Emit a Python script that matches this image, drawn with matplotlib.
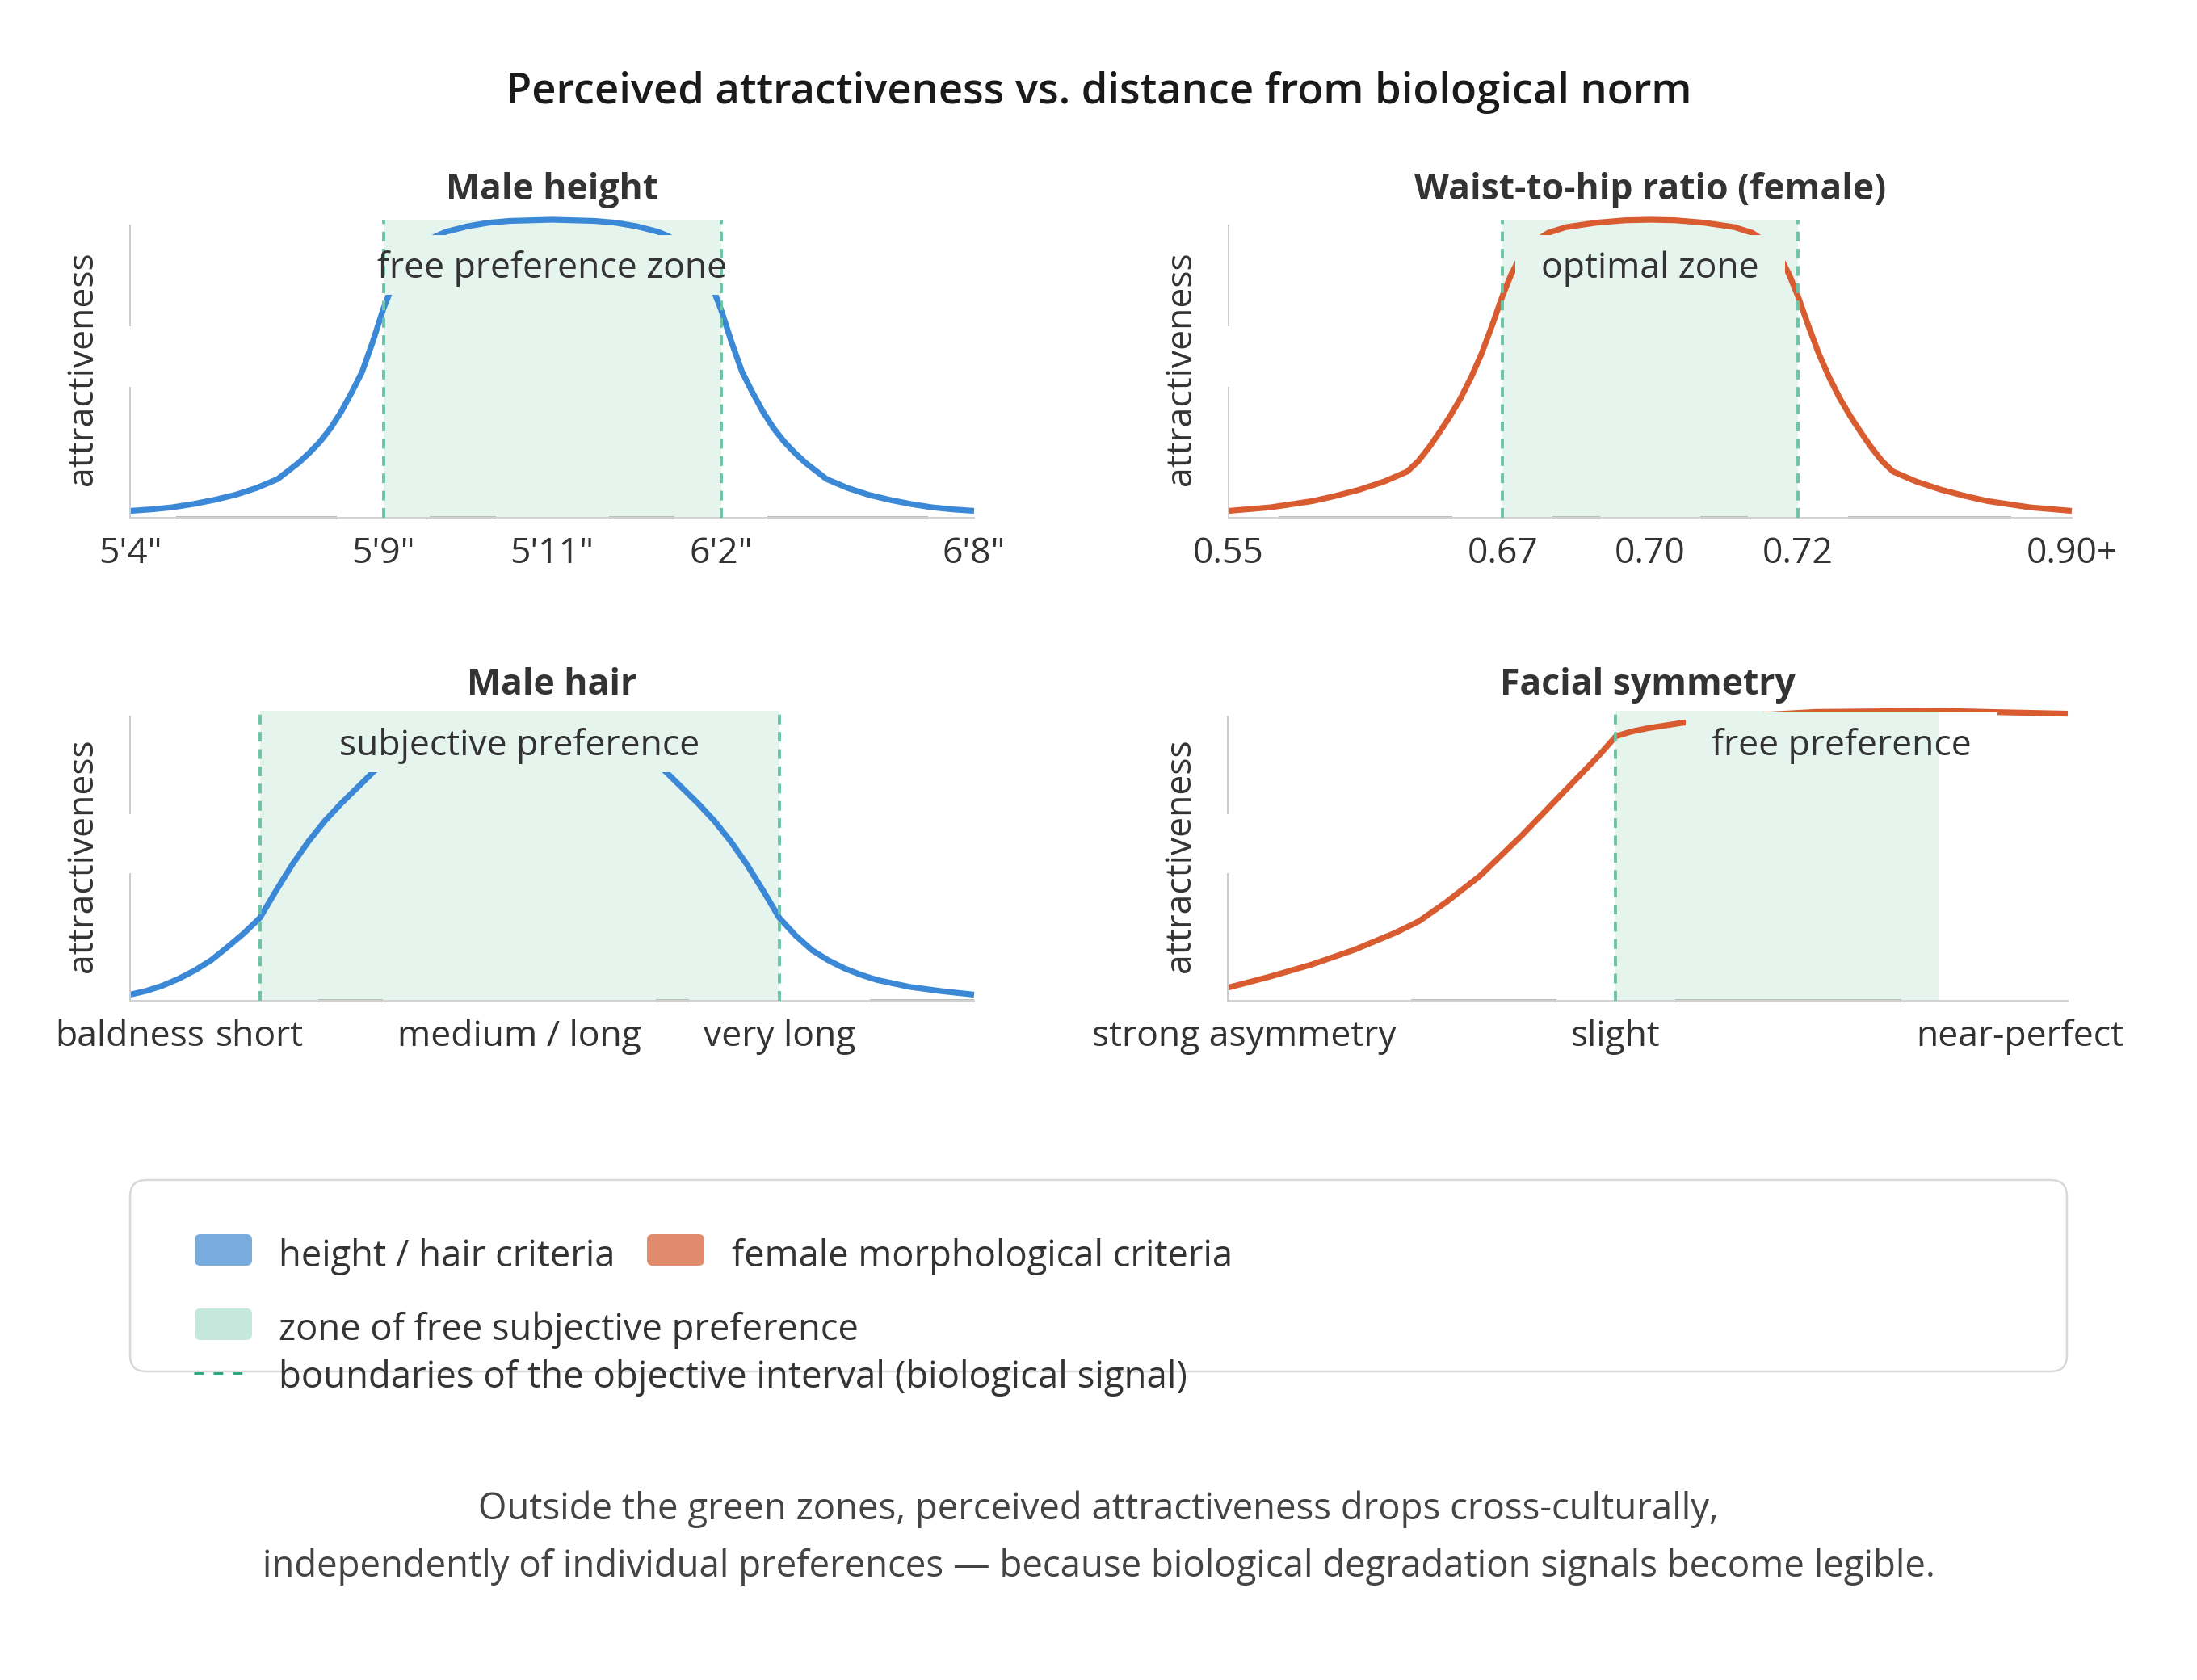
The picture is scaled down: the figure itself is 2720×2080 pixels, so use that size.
import matplotlib
matplotlib.use("Agg")
import matplotlib.pyplot as plt
import matplotlib.transforms as mtransforms
from matplotlib.patches import FancyBboxPatch, Rectangle
from matplotlib.lines import Line2D

plt.rcParams['font.family'] = ['Open Sans', 'DejaVu Sans']

# ---- data ----
title = "Perceived attractiveness vs. distance from biological norm"

height_x = [0, 0.25, 0.5, 0.75, 1, 1.25, 1.5, 1.75, 2, 2.125, 2.25, 2.375, 2.5, 2.625, 2.75, 2.875,
            3, 3.125, 3.25, 3.375, 3.5, 3.625, 3.75, 4, 4.25, 4.5, 5,
            5.5, 5.75, 6, 6.25, 6.375, 6.5, 6.625, 6.75, 6.875, 7, 7.125, 7.25, 7.375, 7.5, 7.625,
            7.75, 7.875, 8, 8.25, 8.5, 8.75, 9, 9.25, 9.5, 9.75, 10]
height_y = [0.023, 0.028, 0.035, 0.046, 0.06, 0.077, 0.10, 0.13, 0.185, 0.218, 0.255, 0.30, 0.355, 0.42,
            0.49, 0.59, 0.70, 0.79, 0.855, 0.90, 0.925, 0.945, 0.96, 0.978, 0.99, 0.996, 1.0,
            0.996, 0.99, 0.978, 0.96, 0.945, 0.925, 0.90, 0.855, 0.79, 0.70, 0.59, 0.49, 0.42, 0.355, 0.30,
            0.255, 0.218, 0.185, 0.13, 0.10, 0.077, 0.06, 0.046, 0.035, 0.028, 0.023]
height_ticks = [0, 3, 5, 7, 10]
height_labels = ['5\'4"', '5\'9"', '5\'11"', '6\'2"', '6\'8"']
height_zone = (3, 7)

whr_x = [0, 0.5, 1, 1.25, 1.55, 1.85, 2.12, 2.25, 2.375, 2.5, 2.625, 2.75, 2.875, 3, 3.125, 3.25,
         3.35, 3.45, 3.55, 3.65, 3.79, 4, 4.36, 4.7, 5,
         5.3, 5.64, 6, 6.21, 6.35, 6.45, 6.55, 6.65, 6.75, 6.875, 7, 7.125, 7.25, 7.375, 7.5,
         7.625, 7.75, 7.88, 8.15, 8.45, 8.75, 9, 9.5, 10]
whr_y = [0.023, 0.035, 0.056, 0.072, 0.094, 0.122, 0.155, 0.19, 0.235, 0.286, 0.34, 0.40, 0.47, 0.55,
         0.645, 0.745, 0.815, 0.87, 0.905, 0.93, 0.956, 0.975, 0.99, 0.998, 1.0,
         0.998, 0.99, 0.975, 0.956, 0.93, 0.905, 0.87, 0.815, 0.745, 0.645, 0.55, 0.47, 0.40, 0.34, 0.286,
         0.235, 0.19, 0.155, 0.122, 0.094, 0.072, 0.056, 0.035, 0.023]
whr_ticks = [0, 3.25, 5, 6.75, 10]
whr_labels = ['0.55', '0.67', '0.70', '0.72', '0.90+']
whr_zone = (3.25, 6.75)

hair_x = [0, 0.25, 0.5, 0.75, 1, 1.25, 1.5, 1.75, 2, 2.25, 2.5, 2.75, 3, 3.25, 3.5, 3.75, 4, 4.25,
          4.5, 5, 6, 7, 7.5, 7.75, 8, 8.25, 8.5, 8.75, 9, 9.25, 9.5, 9.75, 10, 10.25, 10.5,
          10.75, 11, 11.25, 11.5, 12, 12.5, 13]
hair_y = [0.021, 0.034, 0.052, 0.076, 0.105, 0.14, 0.185, 0.232, 0.286, 0.38, 0.47, 0.55, 0.62, 0.68,
          0.735, 0.79, 0.84, 0.88, 0.905, 0.93, 0.94, 0.93, 0.905, 0.88, 0.84, 0.79, 0.735, 0.68,
          0.62, 0.55, 0.47, 0.38, 0.286, 0.225, 0.175, 0.14, 0.112, 0.09, 0.072, 0.048, 0.033, 0.021]
hair_ticks = [0, 2, 6, 10]
hair_labels = ['baldness', 'short', 'medium / long', 'very long']
hair_zone = (2, 10)

face_x = [0, 0.05, 0.1, 0.15, 0.2, 0.228, 0.26, 0.3, 0.35, 0.4, 0.44, 0.462, 0.48, 0.5, 0.54,
          0.6, 0.65, 0.7, 0.85, 0.92, 1.0]
face_y = [0.045, 0.083, 0.125, 0.175, 0.235, 0.275, 0.34, 0.43, 0.57, 0.72, 0.84, 0.912, 0.928,
          0.94, 0.958, 0.975, 0.988, 0.996, 1.0, 0.995, 0.99]
face_ticks = [0.02, 0.462, 0.943]
face_labels = ['strong asymmetry', 'slight', 'near-perfect']
face_zone = (0.462, 0.846)

legend_labels = ['height / hair criteria', 'female morphological criteria',
                 'zone of free subjective preference',
                 'boundaries of the objective interval (biological signal)']
footnote = ["Outside the green zones, perceived attractiveness drops cross-culturally,",
            "independently of individual preferences \u2014 because biological degradation signals become legible."]

# ---- style ----
BLUE = '#3a88d6'
ORANGE = '#d95b30'
ZONE = '#e6f4ee'
DASH = '#6cc4a6'
TXT = '#333333'
W, H, DPI = 2720, 2080, 200

fig = plt.figure(figsize=(W / DPI, H / DPI), dpi=DPI)


def frac_rect(x0, y0, x1, y1):
    return [x0 / W, 1 - y1 / H, (x1 - x0) / W, (y1 - y0) / H]


panels = [
    dict(rect=frac_rect(161, 272, 1206, 641), name='Male height', x=height_x, y=height_y, c=BLUE,
         ticks=height_ticks, labels=height_labels, zone=height_zone, bounds=list(height_zone),
         xlim=(0, 10), note='free preference zone', nx=5, ny=0.806, toff=25),
    dict(rect=frac_rect(1521, 272, 2565, 641), name='Waist-to-hip ratio (female)', x=whr_x, y=whr_y, c=ORANGE,
         ticks=whr_ticks, labels=whr_labels, zone=whr_zone, bounds=list(whr_zone),
         xlim=(0, 10), note='optimal zone', nx=5, ny=0.806, toff=25),
    dict(rect=frac_rect(161, 880, 1206, 1239), name='Male hair', x=hair_x, y=hair_y, c=BLUE,
         ticks=hair_ticks, labels=hair_labels, zone=hair_zone, bounds=list(hair_zone),
         xlim=(0, 13), note='subjective preference', nx=6, ny=0.847, toff=20),
    dict(rect=frac_rect(1520, 880, 2560, 1239), name='Facial symmetry', x=face_x, y=face_y, c=ORANGE,
         ticks=face_ticks, labels=face_labels, zone=face_zone, bounds=[face_zone[0]],
         xlim=(0, 1), note='free preference', nx=0.731, ny=0.847, toff=20),
]

notes = []
axes = []
for p in panels:
    ax = fig.add_axes(p['rect'])
    axes.append(ax)
    ax.set_xlim(*p['xlim'])
    ax.set_ylim(0, 1)
    for s in ax.spines.values():
        s.set_visible(False)
    ax.set_yticks([])
    ax.axvspan(p['zone'][0], p['zone'][1], color=ZONE, lw=0, zorder=0.5)
    for b in p['bounds']:
        ax.axvline(b, color=DASH, lw=1.4, ls=(0, (3.1, 2.4)), zorder=3.5)
    ax.plot(p['x'], p['y'], color=p['c'], lw=2.6, solid_joinstyle='round',
            solid_capstyle='butt', clip_on=False, zorder=2)

    # light axis lines
    ax.axhline(0, color='#d2d2d2', lw=0.7, zorder=2.6, clip_on=False)
    ax.axvline(0, ymin=0, ymax=0.436, color='#cccccc', lw=0.7, clip_on=False)
    ax.axvline(0, ymin=0.645, ymax=0.98, color='#cccccc', lw=0.7, clip_on=False)

    ax.set_xticks(p['ticks'], p['labels'])
    ax.tick_params(axis='x', length=0, pad=8, labelsize=16, labelcolor=TXT)

    ax.set_ylabel('attractiveness', fontsize=16, color=TXT)
    ax.yaxis.set_label_coords(-36 / (p['rect'][2] * W), 0.5)

    tt = mtransforms.offset_copy(ax.transAxes, fig=fig, y=p['toff'], units='dots')
    ax.text(0.5, 1, p['name'], transform=tt, ha='center', va='baseline',
            fontsize=16, fontweight='bold', color=TXT)

    t = ax.text(p['nx'], p['ny'], p['note'], transform=ax.get_xaxis_transform(),
                ha='center', va='baseline', fontsize=16, color=TXT, zorder=4)
    notes.append((ax, t, p['zone'], p['ny']))

fig.canvas.draw()
r = fig.canvas.get_renderer()

# boxes behind the zone labels: they hide the curve, keep the zone colour
for ax, t, zone, ny in notes:
    bb = t.get_window_extent(r)
    base = ax.transAxes.transform((0, ny))[1]
    inv = ax.transAxes.inverted()
    (x0, y0), (x1, y1) = inv.transform([[bb.x0 - 32, base - 21], [bb.x1 + 32, base + 53]])
    box = Rectangle((x0, y0), x1 - x0, y1 - y0, transform=ax.transAxes,
                    facecolor='white', edgecolor='none', zorder=3)
    ax.add_patch(box)
    cover = ax.axvspan(zone[0], zone[1], color=ZONE, lw=0, zorder=3.1)
    cover.set_clip_path(box)

# darker base line pieces, interrupted around the tick labels
for ax in axes:
    inv = ax.transAxes.inverted()
    gaps = []
    for lab in ax.get_xticklabels():
        bb = lab.get_window_extent(r)
        gaps.append((inv.transform((bb.x0 - 18, 0))[0], inv.transform((bb.x1 + 18, 0))[0]))
    gaps.sort()
    cur = 0.0
    pieces = []
    for a, b in gaps:
        if a > cur:
            pieces.append((cur, a))
        cur = max(cur, b)
    if cur < 1:
        pieces.append((cur, 1.0))
    for a, b in pieces:
        ax.plot([a, b], [0, 0], transform=ax.transAxes, color='#b8bcb8', lw=1.4,
                solid_capstyle='butt', clip_on=False, zorder=1.2)

fig.text(0.5, 1 - 128 / H, title, ha='center', va='baseline', fontsize=18.9,
         fontweight='semibold', color='#1a1a1a')

# ---- legend (drawn in inch space) ----
inch = fig.dpi_scale_trans


def P(x, y):
    return x / DPI, (H - y) / DPI


lx, ly = P(161, 1698)
fig.add_artist(FancyBboxPatch((lx, ly), (2559 - 161) / DPI, (1698 - 1461) / DPI,
                              boxstyle='round,pad=0,rounding_size=0.1', transform=inch,
                              facecolor='white', edgecolor='#d9d9d9', lw=0.9, zorder=0))

swatches = [('#78acdf', 241, 1567, 345, 1568), ('#e08a6e', 801, 1567, 906, 1568),
            ('#c5e8dc', 241, 1659, 345, 1659)]
for (col, sx, sy, tx, ty), lab in zip(swatches, legend_labels[:3]):
    fig.add_artist(FancyBboxPatch(P(sx, sy), 71 / DPI, 39 / DPI,
                                  boxstyle='round,pad=0,rounding_size=0.035', transform=inch,
                                  facecolor=col, edgecolor='none', zorder=2))
    fig.text(*P(tx, ty), lab, transform=inch, ha='left', va='baseline', fontsize=16.3, color=TXT)

x_a, y_a = P(240, 1700)
x_b, _ = P(300, 1700)
fig.add_artist(Line2D([x_a, x_b], [y_a, y_a], transform=inch, color='#22a37a', lw=1.0,
                      ls=(0, (4.3, 4.3)), zorder=2))
fig.text(*P(345, 1718), legend_labels[3], transform=inch, ha='left', va='baseline',
         fontsize=16.4, color=TXT)

for line, yb in zip(footnote, [1881, 1952]):
    fig.text(0.5, 1 - yb / H, line, ha='center', va='baseline', fontsize=16.4, color='#444444')

fig.savefig('out.png', dpi=DPI, facecolor='white')
